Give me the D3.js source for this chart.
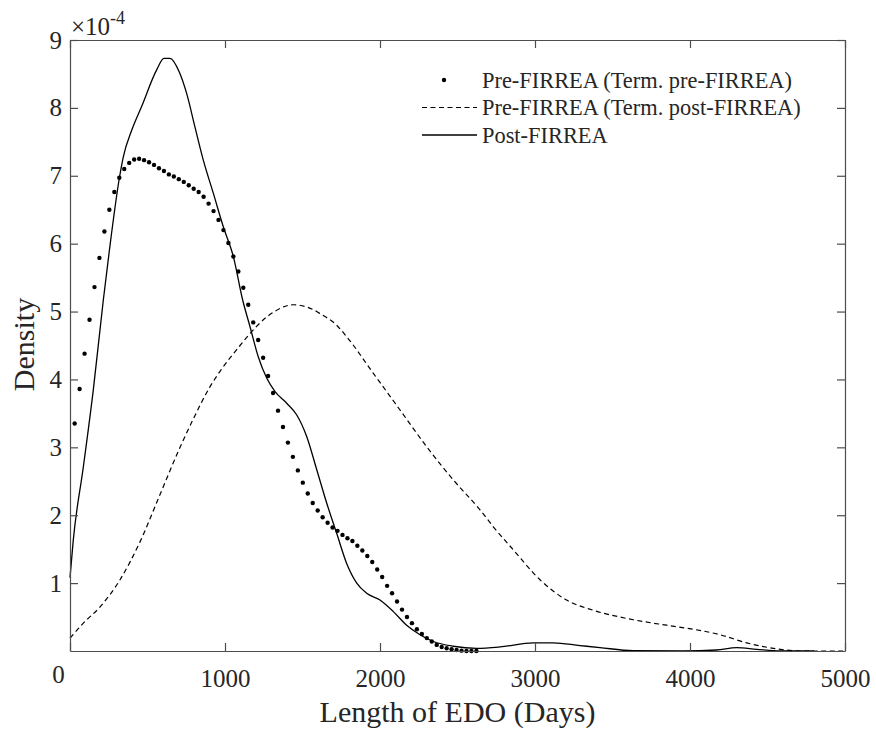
<!DOCTYPE html>
<html>
<head>
<meta charset="utf-8">
<script src="https://cdn.jsdelivr.net/npm/d3@7"></script>
<style>
  body { margin: 0; background: #fff; }
  text { font-family: "Liberation Serif", "Times New Roman", serif; fill: #262626; }
</style>
</head>
<body>
<div class="chart"></div>
<script>
// DENSITY OF EDO LENGTH (values in units of 1e-4)
const serif = '"Liberation Serif", "Times New Roman", serif';

// x ticks / y ticks
const xTicks = [0, 1000, 2000, 3000, 4000, 5000];
const yTicks = [1, 2, 3, 4, 5, 6, 7, 8, 9];

// Pre-FIRREA (Term. pre-FIRREA) - drawn as dots
const preDaysX = [30, 62, 94, 126, 158, 190, 222, 254, 286, 318, 350, 382, 414, 446, 478, 510, 542, 574, 606, 638,
	670, 702, 734, 766, 798, 830, 862, 894, 926, 958, 990, 1022, 1054, 1086, 1118, 1150, 1182, 1214, 1246, 1278,
	1310, 1342, 1374, 1406, 1438, 1470, 1502, 1534, 1566, 1598, 1630, 1662, 1694, 1726, 1758, 1790, 1822, 1854,
	1886, 1918, 1950, 1982, 2014, 2046, 2078, 2110, 2142, 2174, 2206, 2238, 2270, 2302, 2334, 2366, 2398, 2430,
	2462, 2494, 2526, 2558, 2590, 2622];
const preDensity = [3.35, 3.86, 4.38, 4.88, 5.36, 5.79, 6.18, 6.50, 6.76, 6.97, 7.10, 7.19, 7.24, 7.25, 7.23, 7.20,
	7.16, 7.11, 7.07, 7.02, 6.99, 6.95, 6.91, 6.86, 6.81, 6.76, 6.69, 6.59, 6.48, 6.35, 6.20, 6.01, 5.81, 5.59,
	5.35, 5.10, 4.84, 4.58, 4.32, 4.05, 3.80, 3.54, 3.30, 3.07, 2.86, 2.66, 2.48, 2.32, 2.18, 2.07, 1.97, 1.89,
	1.82, 1.77, 1.71, 1.66, 1.62, 1.55, 1.48, 1.40, 1.31, 1.20, 1.09, 0.96, 0.85, 0.73, 0.61, 0.50, 0.41, 0.32,
	0.25, 0.19, 0.14, 0.09, 0.06, 0.04, 0.025, 0.015, 0.005, 0, 0, 0];

// Pre-FIRREA (Term. post-FIRREA) - dashed
const postTermX = [0, 86, 194, 323, 450, 580, 700, 796, 900, 968, 1097, 1140, 1269, 1312, 1441, 1592, 1613, 1720,
	1785, 1957, 2129, 2301, 2473, 2645, 2731, 2860, 3032, 3204, 3376, 3548, 3634, 3849, 4022, 4194, 4366, 4538,
	4710, 5000];
const postTermDensity = [0.19, 0.41, 0.65, 1.05, 1.60, 2.30, 2.95, 3.42, 3.88, 4.12, 4.50, 4.62, 4.92, 4.99, 5.10,
	5.00, 4.97, 4.80, 4.63, 4.09, 3.55, 3.01, 2.52, 2.08, 1.83, 1.49, 1.05, 0.75, 0.60, 0.50, 0.46, 0.38, 0.32,
	0.24, 0.12, 0.04, 0, 0];

// Post-FIRREA - solid
const postX = [0, 21, 86, 150, 215, 254, 318, 344, 398, 462, 559, 606, 645, 705, 753, 806, 860, 925, 989, 1054,
	1114, 1161, 1215, 1269, 1323, 1398, 1462, 1527, 1592, 1656, 1721, 1785, 1850, 1914, 2000, 2086, 2172, 2258,
	2344, 2473, 2624, 2774, 2989, 3118, 3290, 3419, 3634, 3955, 4172, 4301, 4430, 4581, 4800];
const postDensity = [1.08, 1.63, 2.71, 3.84, 5.17, 5.90, 6.96, 7.28, 7.67, 8.02, 8.56, 8.73, 8.73, 8.53, 8.21,
	7.72, 7.23, 6.74, 6.25, 5.81, 5.17, 4.78, 4.33, 4.02, 3.82, 3.65, 3.48, 3.16, 2.67, 2.18, 1.73, 1.29, 1.00,
	0.85, 0.75, 0.58, 0.38, 0.24, 0.14, 0.07, 0.04, 0.06, 0.12, 0.12, 0.08, 0.05, 0.005, 0, 0.015, 0.05, 0.025,
	0, 0];

const legendLabels = ['Pre-FIRREA (Term. pre-FIRREA)', 'Pre-FIRREA (Term. post-FIRREA)', 'Post-FIRREA'];

const margin = { top: 40, right: 31, bottom: 79, left: 70 };
const width = 876 - margin.left - margin.right;
const height = 730 - margin.top - margin.bottom;

const svg = d3.select('.chart')
	.append('svg')
		.attr('width', 876)
		.attr('height', 730)
	.append('g')
		.attr('transform', `translate(${margin.left}, ${margin.top})`);

const xScale = d3.scaleLinear().domain([0, 5000]).range([0, width]);
const yScale = d3.scaleLinear().domain([0, 9]).range([height, 0]);

const line = d3.line()
	.x(d => xScale(d[0]))
	.y(d => yScale(d[1]))
	.curve(d3.curveMonotoneX);

// curves
svg.append('path')
	.datum(d3.zip(postTermX, postTermDensity))
	.attr('d', line)
	.attr('fill', 'none')
	.attr('stroke', '#000')
	.attr('stroke-width', 1.2)
	.attr('stroke-dasharray', '5,3.5');

svg.append('path')
	.datum(d3.zip(postX, postDensity))
	.attr('d', line)
	.attr('fill', 'none')
	.attr('stroke', '#000')
	.attr('stroke-width', 1.3);

svg.selectAll('circle.pre')
	.data(d3.zip(preDaysX, preDensity))
	.enter()
	.append('circle')
	.attr('class', 'pre')
	.attr('cx', d => xScale(d[0]))
	.attr('cy', d => yScale(d[1]))
	.attr('r', 2.2)
	.attr('fill', '#000');

// axes (box with inward ticks)
const axisColor = '#4d4d4d';
function styleAxis(g) {
	g.attr('font-family', serif);
	g.select('.domain').attr('stroke', axisColor).attr('stroke-width', 1.2);
	g.selectAll('.tick line').attr('stroke', axisColor).attr('stroke-width', 1.2);
	g.selectAll('.tick text').attr('font-family', serif).attr('fill', '#262626');
}

const xAxis = svg.append('g')
	.attr('transform', `translate(0, ${height})`)
	.call(d3.axisBottom(xScale).tickValues(xTicks).tickFormat(d3.format('d'))
		.tickSizeInner(-8).tickSizeOuter(0).tickPadding(18))
	.call(styleAxis);
xAxis.selectAll('.tick text').attr('font-size', 25);
xAxis.selectAll('.tick text').filter(d => d === 0).attr('dx', -12).attr('dy', '0.55em');

svg.append('g')
	.call(d3.axisTop(xScale).tickValues(xTicks).tickSizeInner(-8).tickSizeOuter(0).tickFormat(''))
	.call(styleAxis);

const yAxis = svg.append('g')
	.call(d3.axisLeft(yScale).tickValues(yTicks).tickFormat(d3.format('d'))
		.tickSizeInner(-8).tickSizeOuter(0).tickPadding(8))
	.call(styleAxis);
yAxis.selectAll('.tick text').attr('font-size', 25);

svg.append('g')
	.attr('transform', `translate(${width}, 0)`)
	.call(d3.axisRight(yScale).tickValues(yTicks).tickSizeInner(-8).tickSizeOuter(0).tickFormat(''))
	.call(styleAxis);

// exponent
const expo = svg.append('text')
	.attr('x', 1)
	.attr('y', -5)
	.attr('font-family', serif)
	.attr('font-size', 25);
expo.append('tspan').text('\u00d710');
expo.append('tspan').attr('font-size', 18).attr('dy', -11).text('-4');

// axis labels
svg.append('text')
	.attr('x', width / 2)
	.attr('y', height + 71)
	.attr('text-anchor', 'middle')
	.attr('font-family', serif)
	.attr('font-size', 30)
	.text('Length of EDO (Days)');

svg.append('text')
	.attr('transform', `translate(${-36}, ${height / 2 - 1}) rotate(-90)`)
	.attr('text-anchor', 'middle')
	.attr('font-family', serif)
	.attr('font-size', 30)
	.text('Density');

// legend
const legend = svg.append('g').attr('transform', 'translate(352, 40)');
const rowY = [0, 27.5, 55];
legend.append('circle').attr('cx', 22).attr('cy', rowY[0]).attr('r', 2.2).attr('fill', '#000');
legend.append('line').attr('x1', 0).attr('x2', 55).attr('y1', rowY[1]).attr('y2', rowY[1])
	.attr('stroke', '#000').attr('stroke-width', 1.2).attr('stroke-dasharray', '5,3.5');
legend.append('line').attr('x1', 0).attr('x2', 55).attr('y1', rowY[2]).attr('y2', rowY[2])
	.attr('stroke', '#000').attr('stroke-width', 1.3);
legend.selectAll('text.leg')
	.data(legendLabels)
	.enter()
	.append('text')
	.attr('class', 'leg')
	.attr('x', 60)
	.attr('y', (d, i) => rowY[i])
	.attr('dy', '0.35em')
	.attr('font-family', serif)
	.attr('font-size', 22.4)
	.text(d => d);
</script>
</body>
</html>
